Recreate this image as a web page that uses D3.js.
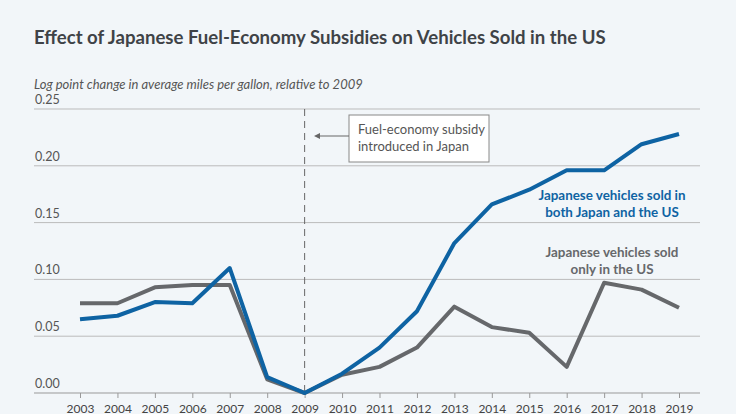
<!DOCTYPE html>
<html><head><meta charset="utf-8">
<script src="https://cdn.jsdelivr.net/npm/d3@7"></script>
<style>body{margin:0;background:#f2f6f9;font-family:Lato,"Noto Sans",sans-serif}</style>
</head><body><div id="chart"></div>
<script>
const years = [2003,2004,2005,2006,2007,2008,2009,2010,2011,2012,2013,2014,2015,2016,2017,2018,2019];
const bothJapanUS = [0.065,0.068,0.080,0.079,0.110,0.014,0,0.017,0.040,0.072,0.132,0.166,0.179,0.196,0.196,0.219,0.228];
const onlyUS = [0.079,0.079,0.093,0.095,0.095,0.012,0,0.016,0.023,0.040,0.076,0.058,0.053,0.023,0.097,0.091,0.075];
const yTicks = [0,0.05,0.10,0.15,0.20,0.25];

const W = 736, H = 414;
const svg = d3.select("#chart").append("svg").attr("width", W).attr("height", H);
svg.append("rect").attr("width", W).attr("height", H).attr("fill", "#f2f6f9");

const x = d3.scaleLinear().domain([2003, 2019]).range([80, 679]);
const y = d3.scaleLinear().domain([0, 0.25]).range([393, 109]);

svg.append("text").attr("x", 34).attr("y", 44).attr("font-size", 18.6).attr("font-weight", "bold")
  .attr("fill", "#3f4347").text("Effect of Japanese Fuel-Economy Subsidies on Vehicles Sold in the US");
svg.append("text").attr("x", 34).attr("y", 89).attr("font-size", 13).attr("font-style", "italic")
  .attr("fill", "#555").text("Log point change in average miles per gallon, relative to 2009");

// grid + y labels
yTicks.forEach(t => {
  svg.append("line").attr("x1", 34).attr("x2", 700).attr("y1", y(t)).attr("y2", y(t))
    .attr("stroke", t === 0 ? "#999" : "#bbb").attr("stroke-width", 1);
  svg.append("text").attr("x", 35).attr("y", y(t) - 5).attr("font-size", 12.5).attr("fill", "#555")
    .text(t.toFixed(2));
});

// x axis
const xAxis = svg.append("g").attr("transform", `translate(0,${y(0)})`)
  .call(d3.axisBottom(x).tickValues(years).tickFormat(d3.format("d")).tickSize(5));
xAxis.select(".domain").remove();
xAxis.selectAll("line").attr("stroke", "#999");
xAxis.selectAll("text").attr("font-size", 12).attr("fill", "#444").attr("font-family", "Lato,sans-serif").attr("dy", "1em");

// 2009 dashed line
svg.append("line").attr("x1", x(2009)).attr("x2", x(2009)).attr("y1", y(0.25)).attr("y2", y(0))
  .attr("stroke", "#666").attr("stroke-dasharray", "7,5");

// annotation
svg.append("rect").attr("x", 349).attr("y", 115).attr("width", 140).attr("height", 47)
  .attr("fill", "#fff").attr("stroke", "#888");
svg.append("text").attr("x", 358).attr("y", 134).attr("font-size", 13).attr("fill", "#555").text("Fuel-economy subsidy");
svg.append("text").attr("x", 358).attr("y", 151).attr("font-size", 13).attr("fill", "#555").text("introduced in Japan");
svg.append("line").attr("x1", 349).attr("x2", 318).attr("y1", 136).attr("y2", 136).attr("stroke", "#666");
svg.append("path").attr("d", "M314,136 l6,-3 v6 z").attr("fill", "#666");

const line = d3.line().x((d, i) => x(years[i])).y(d => y(d));
svg.append("path").datum(onlyUS).attr("d", line).attr("fill", "none")
  .attr("stroke", "#66686b").attr("stroke-width", 4).attr("stroke-linejoin", "round");
svg.append("path").datum(bothJapanUS).attr("d", line).attr("fill", "none")
  .attr("stroke", "#0e63a3").attr("stroke-width", 4).attr("stroke-linejoin", "round");

const lab = (t, xx, yy, c) => svg.append("text").attr("x", xx).attr("y", yy).attr("text-anchor", "middle")
  .attr("font-size", 13.4).attr("font-weight", "bold").attr("fill", c).text(t);
lab("Japanese vehicles sold in", 612, 200, "#0e63a3");
lab("both Japan and the US", 612, 217, "#0e63a3");
lab("Japanese vehicles sold", 612, 257, "#66686b");
lab("only in the US", 612, 274, "#66686b");
</script></body></html>
